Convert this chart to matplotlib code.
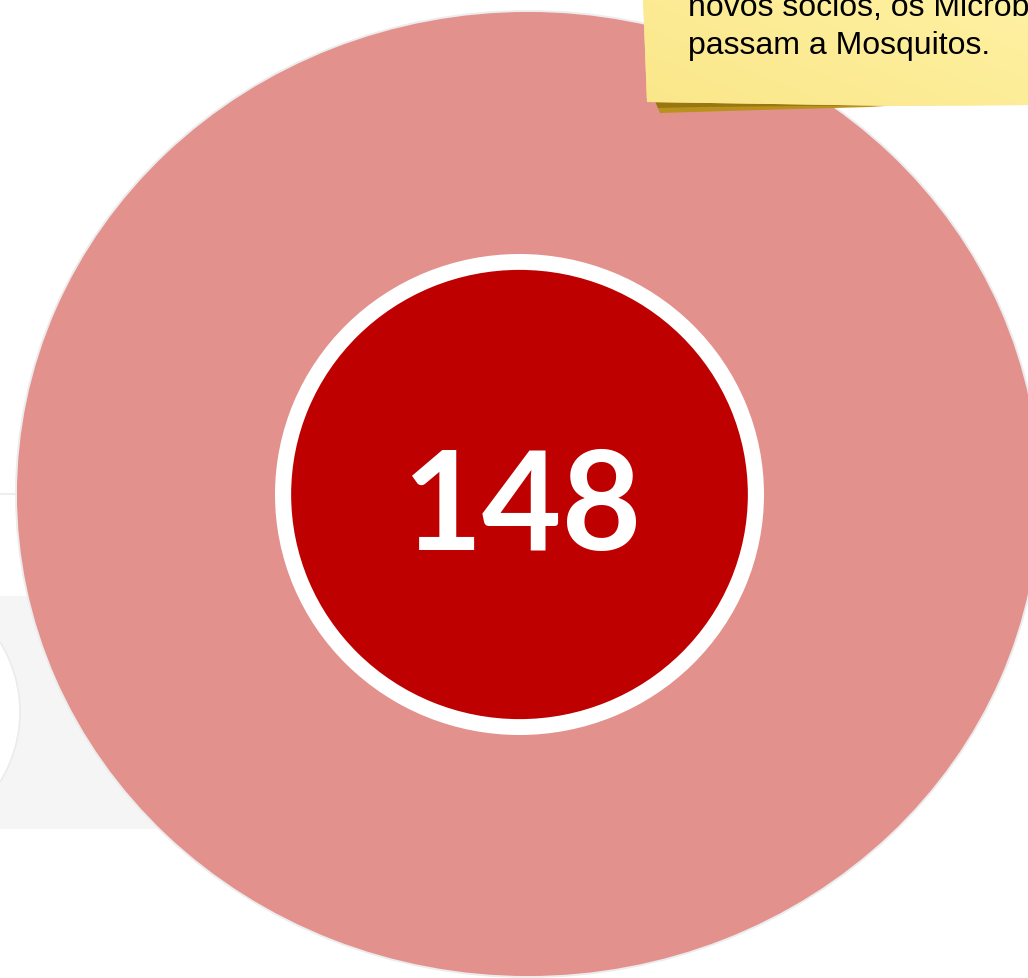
import matplotlib
matplotlib.use("Agg")
import matplotlib.pyplot as plt
from matplotlib.patches import Polygon, Rectangle, Circle
import numpy as np

# ---- data ----
values = [148]
center_label = "148"
note_lines = ["novos sócios, os Micróbios", "passam a Mosquitos."]

# ---- colours ----
PINK = "#e2918d"
RED = "#bf0000"
GREY_BG = "#f5f5f5"
NOTE_YELLOW = "#fcea93"

W, H = 1028, 979
fig = plt.figure(figsize=(W / 100, H / 100), dpi=100)
fig.patch.set_facecolor("white")


def pix_axes(zorder):
    ax = fig.add_axes([0, 0, 1, 1], zorder=zorder)
    ax.set_xlim(0, W)
    ax.set_ylim(H, 0)
    ax.axis("off")
    ax.patch.set_alpha(0)
    return ax


def box_axes(x0, x1, y0, y1, zorder):
    ax = fig.add_axes([x0 / W, 1 - y1 / H, (x1 - x0) / W, (y1 - y0) / H], zorder=zorder)
    return ax


# background elements
axb = pix_axes(0)
axb.add_patch(Rectangle((0, 597), 200, 233, facecolor=GREY_BG, edgecolor="none"))
axb.add_patch(Circle((-112.5, 713), 132.5, facecolor="white", edgecolor="#ebebeb", linewidth=1.2))
axb.plot([0, 40], [495, 495], color="#eeeeee", linewidth=1.5)

# outer disc
axo = box_axes(16, 1040, 12, 978, 1)
axo.pie(values, colors=[PINK], radius=1, startangle=90, counterclock=False,
        wedgeprops=dict(edgecolor="#ececec", linewidth=1.4))
axo.set_xlim(-1, 1)
axo.set_ylim(-1, 1)
axo.set_aspect("auto")
axo.axis("off")
axo.patch.set_alpha(0)

# inner disc with white ring
axi = box_axes(275, 764, 255, 736, 2)
axi.pie(values, colors=["white"], radius=1, startangle=90, counterclock=False)
axi.pie(values, colors=[RED], radius=0.934, startangle=90, counterclock=False)
axi.set_xlim(-1, 1)
axi.set_ylim(-1, 1)
axi.set_aspect("auto")
axi.axis("off")
axi.patch.set_alpha(0)

# top overlay: label and sticky note
axt = pix_axes(3)
axt.text(522, 550, center_label, ha="center", va="baseline", fontsize=99,
         fontweight="bold", family="Lato", color="white")

# note shadow
axt.add_patch(Polygon([(655, 102), (900, 106), (870, 108), (760, 111), (660, 114)],
                      closed=True, facecolor="#b8921c", edgecolor="none"))
axt.add_patch(Polygon([(655, 102), (900, 106), (800, 107), (700, 108), (658, 109)],
                      closed=True, facecolor="#8c6c0c", edgecolor="none", alpha=0.7))
# note body with gradient
note_poly = Polygon([(643, -2), (1030, -2), (1030, 106), (900, 107), (647, 103)],
                    closed=True, facecolor=NOTE_YELLOW, edgecolor="none")
axt.add_patch(note_poly)
gx = np.linspace(0, 1, 64)
gy = np.linspace(0, 1, 16)
GX, GY = np.meshgrid(gx, gy)
c0 = np.array([251, 231, 138]) / 255
c1 = np.array([254, 241, 162]) / 255
t = (0.6 * GX + 0.4 * (1 - GY))[..., None]
img = c0 * (1 - t) + c1 * t
im = axt.imshow(img, extent=(643, 1030, 110, -2), aspect="auto", interpolation="bilinear", zorder=2)
im.set_clip_path(note_poly)
axt.set_xlim(0, W)
axt.set_ylim(H, 0)

axt.text(688, 16, note_lines[0], ha="left", va="baseline", fontsize=23,
         family="Liberation Sans", color="black", zorder=3)
axt.text(688, 54, note_lines[1], ha="left", va="baseline", fontsize=23,
         family="Liberation Sans", color="black", zorder=3)

fig.savefig("out.png", dpi=100, facecolor="white")
